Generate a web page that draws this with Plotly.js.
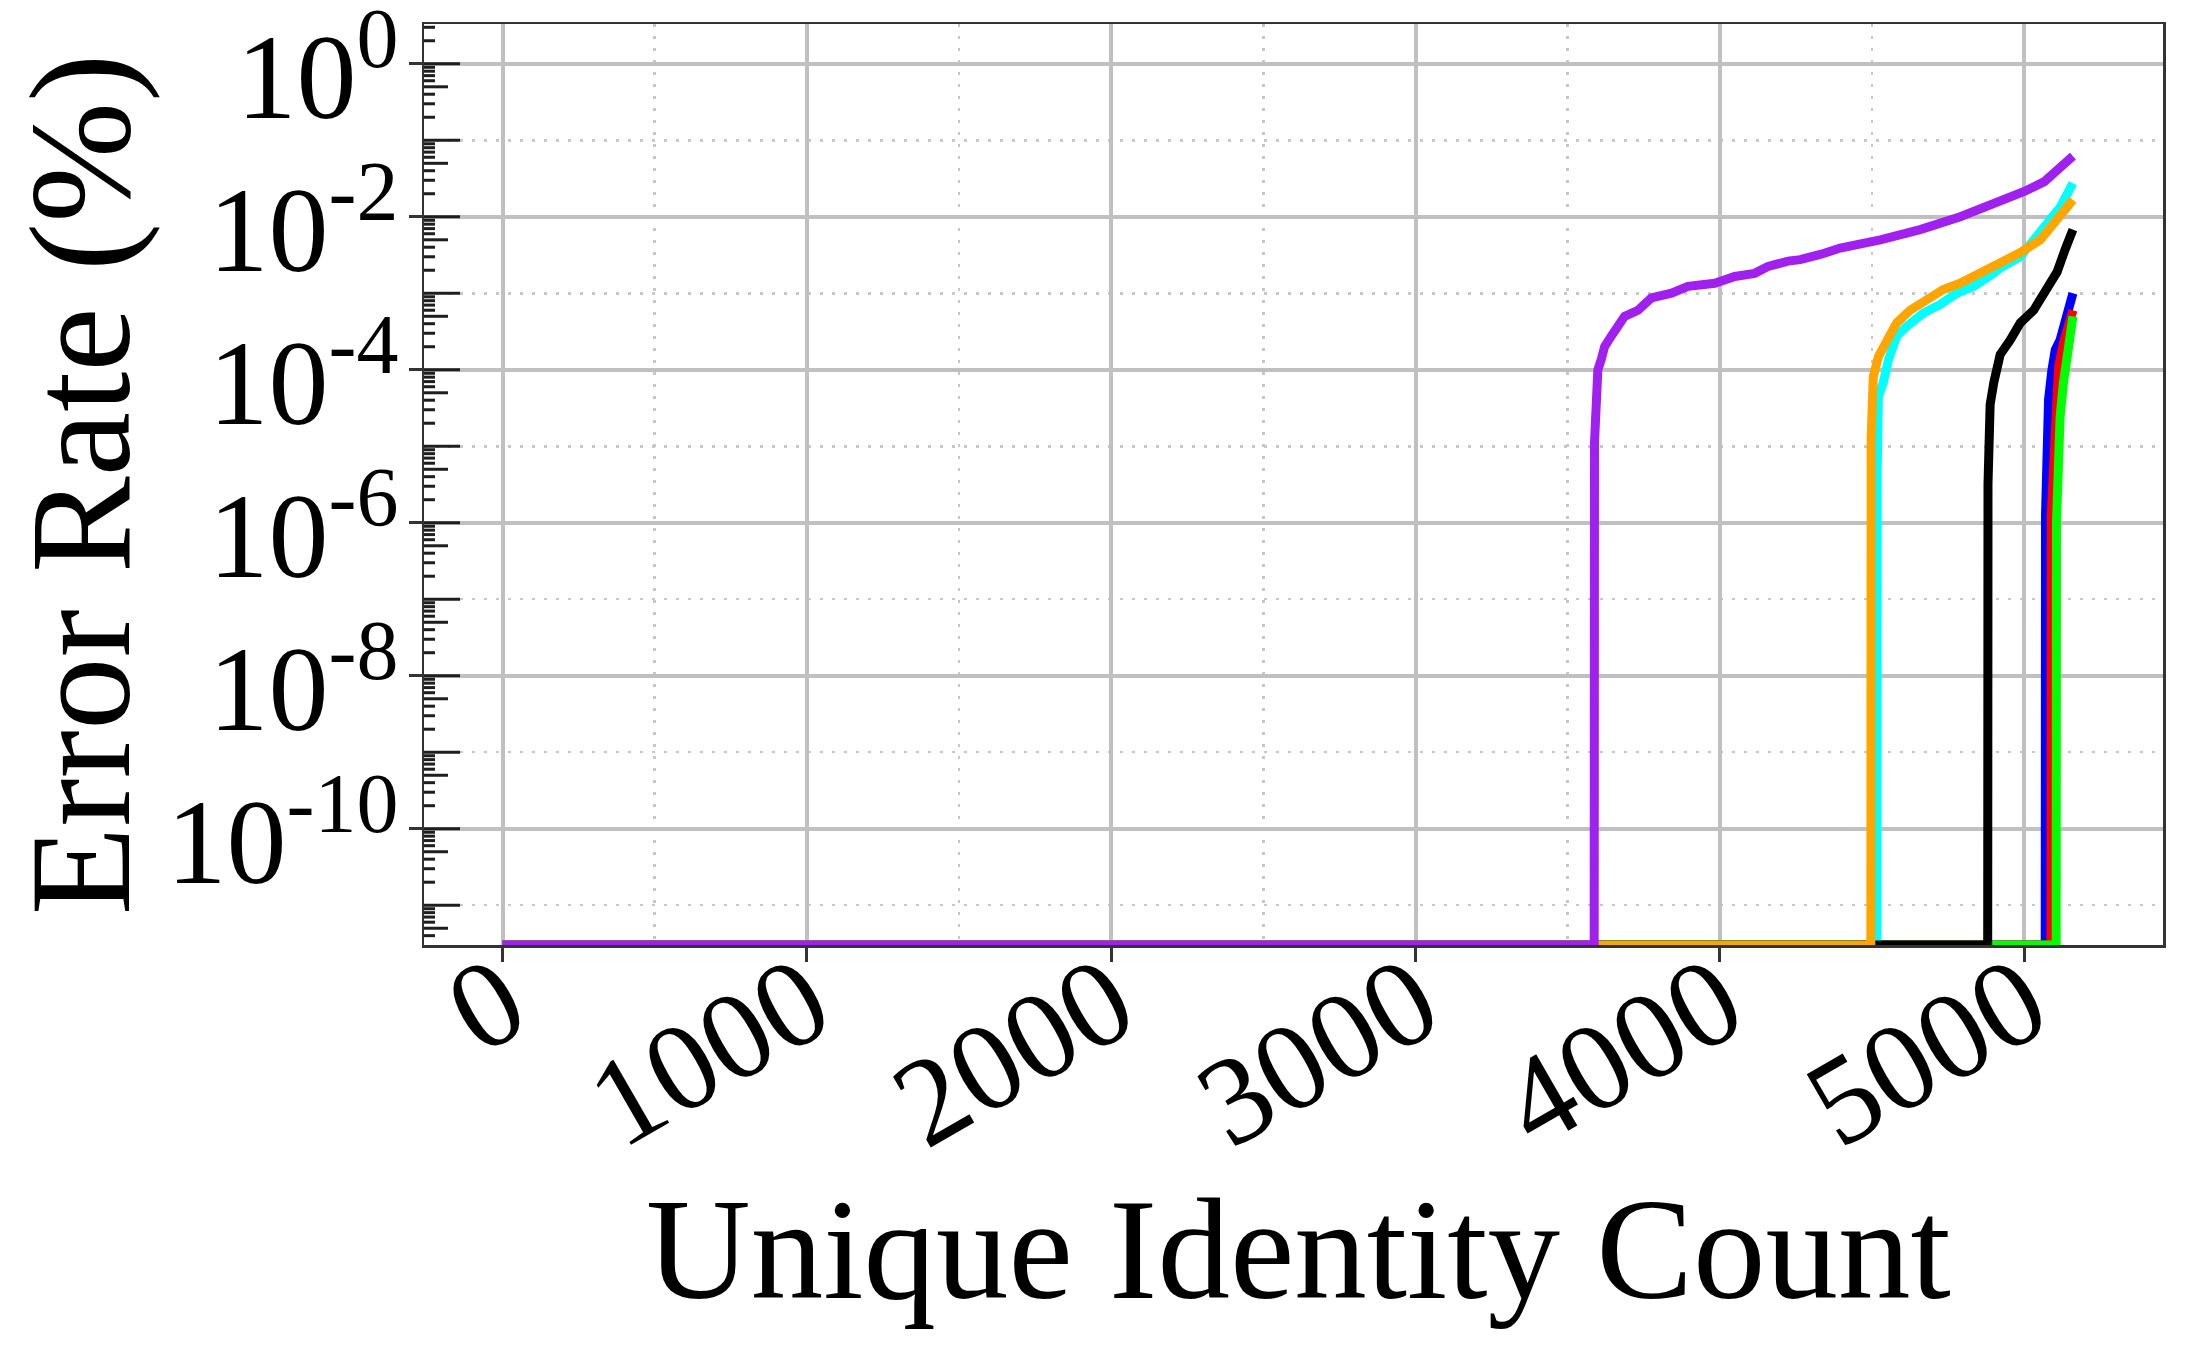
<!DOCTYPE html>
<html>
<head>
<meta charset="utf-8">
<script src="https://cdn.plot.ly/plotly-3.0.1.min.js"></script>
<style>html,body{margin:0;padding:0;background:#fff}#chart{width:2187px;height:1350px}</style>
</head>
<body>
<div id="chart"></div>
<script>
// ---- data (x = unique identity count, y = error rate %) ----
const purpleX = [0, 3587, 3588, 3589, 3590, 3592, 3599, 3610, 3621, 3643, 3665, 3687, 3731, 3775, 3841, 3895, 3983, 4049, 4114, 4158, 4224, 4264, 4333, 4395, 4527, 4658, 4790, 4921, 5000, 5066, 5119, 5160];
const purpleY = [0, 0, 1.1e-5, 1.5e-5, 2.8e-5, 7.9e-5, 1.0e-4, 1.35e-4, 2.0e-4, 2.75e-4, 3.7e-4, 5.0e-4, 6.0e-4, 8.7e-4, 1.0e-3, 1.23e-3, 1.35e-3, 1.66e-3, 1.82e-3, 2.24e-3, 2.63e-3, 2.75e-3, 3.24e-3, 3.9e-3, 5.0e-3, 6.8e-3, 1.0e-2, 1.58e-2, 2.14e-2, 2.88e-2, 4.57e-2, 6.2e-2];

const orangeX = [0, 4496, 4497, 4498, 4504, 4521, 4548, 4581, 4625, 4680, 4734, 4789, 4844, 4910, 4987, 5053, 5090, 5119, 5160];
const orangeY = [0, 0, 1.26e-5, 3.6e-5, 8.1e-5, 1.48e-4, 2.45e-4, 4.1e-4, 6.0e-4, 8.3e-4, 1.12e-3, 1.35e-3, 1.74e-3, 2.5e-3, 3.4e-3, 5.0e-3, 7.6e-3, 1.0e-2, 1.66e-2];

const cyanX = [0, 4516, 4517, 4518, 4521, 4537, 4554, 4581, 4614, 4669, 4723, 4778, 4833, 4899, 4921, 4987, 5053, 5119, 5160];
const cyanY = [0, 0, 5.0e-6, 8.9e-6, 4.5e-5, 6.8e-5, 1.35e-4, 2.75e-4, 3.7e-4, 5.5e-4, 7.1e-4, 1.0e-3, 1.23e-3, 1.82e-3, 2.14e-3, 3.0e-3, 6.5e-3, 1.35e-2, 2.75e-2];

const blackX = [0, 4880, 4881, 4882, 4888, 4900, 4910, 4921, 4954, 4987, 5031, 5075, 5108, 5134, 5150, 5160];
const blackY = [0, 0, 3.2e-6, 1.48e-5, 3.5e-5, 6.8e-5, 1.1e-4, 1.58e-4, 2.45e-4, 4.1e-4, 6.0e-4, 1.12e-3, 1.9e-3, 3.7e-3, 5.6e-3, 6.8e-3];

const blueX = [0, 5069, 5070, 5075, 5080, 5091, 5102, 5118, 5140, 5155, 5160];
const blueY = [0, 0, 1.26e-6, 9.1e-6, 4.1e-5, 1.0e-4, 1.82e-4, 2.45e-4, 5.0e-4, 8.9e-4, 1.0e-3];

const redX = [0, 5088, 5089, 5097, 5102, 5113, 5129, 5146, 5160];
const redY = [0, 0, 1.26e-6, 9.1e-6, 4.1e-5, 1.1e-4, 2.24e-4, 4.1e-4, 6.0e-4];

const greenX = [0, 5105, 5106, 5107, 5113, 5118, 5129, 5146, 5160];
const greenY = [0, 0, 1.0e-6, 2.0e-6, 7.4e-6, 2.45e-5, 6.8e-5, 1.82e-4, 5.0e-4];

// ---- tick labels and titles ----
const yTickVals = [1e-10, 1e-8, 1e-6, 1e-4, 1e-2, 1];
const yTickText = ['10<sup>-10</sup>', '10<sup>-8</sup>', '10<sup>-6</sup>', '10<sup>-4</sup>', '10<sup>-2</sup>', '10<sup>0</sup>'];
const xTickVals = [0, 1000, 2000, 3000, 4000, 5000];
const xTickText = ['0', '1000', '2000', '3000', '4000', '5000'];
const xTitle = 'Unique Identity Count';
const yTitle = 'Error Rate (%)';

// ---- axis configuration ----
const Y_RANGE = [-11.52, 0.52];
const X_RANGE = [-258, 5456];
const FLOOR = Math.pow(10, Y_RANGE[0]); // zero values sit on the bottom edge of the log axis

const FONT = 'Liberation Serif, Times New Roman, serif';
const GRID = '#c0c0c0';
const AX = '#333333';
const TICKC = '#1e1e1e';

// inside tick marks of the log y axis (decades long, x5 medium, others short)
const tickShapes = [];
function yTick(v, len) {
  const lv = Math.log10(v);
  if (lv < Y_RANGE[0] || lv > Y_RANGE[1]) return;
  tickShapes.push({
    type: 'line', layer: 'above',
    xref: 'x', xsizemode: 'pixel', xanchor: X_RANGE[0], x0: 0, x1: len,
    yref: 'y', y0: v, y1: v,
    line: {color: TICKC, width: 3}
  });
}
for (let k = -12; k <= 0; k++) {
  const d = Math.pow(10, k);
  yTick(d, 36);
  for (let m = 2; m <= 9; m++) yTick(m * d, m === 5 ? 24 : 11);
}

function mk(x, y, color) {
  return {
    type: 'scatter', mode: 'lines',
    x: x, y: y.map(v => (v > 0 ? v : FLOOR)),
    line: {color: color, width: 9},
    hoverinfo: 'skip', showlegend: false
  };
}

const traces = [
  mk(blueX, blueY, '#0000ff'),
  mk(redX, redY, '#ff0000'),
  mk(greenX, greenY, '#00ff00'),
  mk(cyanX, cyanY, '#00ffff'),
  mk(blackX, blackY, '#000000'),
  mk(orangeX, orangeY, '#ffa500'),
  mk(purpleX, purpleY, '#a020f0')
];

const layout = {
  width: 2187, height: 1350,
  paper_bgcolor: '#ffffff', plot_bgcolor: '#ffffff',
  margin: {l: 424, r: 24, t: 24, b: 405, pad: 0},
  font: {family: FONT, color: '#000'},
  shapes: tickShapes,
  annotations: [{
    text: xTitle, xref: 'paper', yref: 'paper', x: 0.503, y: -0.241,
    xanchor: 'center', yanchor: 'top', showarrow: false,
    font: {family: FONT, size: 145, color: '#000'}
  }],
  xaxis: {
    type: 'linear', range: X_RANGE,
    tickmode: 'array', tickvals: xTickVals, ticktext: xTickText,
    tickangle: -30,
    ticks: 'outside', ticklen: 14, tickwidth: 3, tickcolor: AX,
    ticklabelstandoff: -78,
    tickfont: {family: FONT, size: 125, color: '#000'},
    showgrid: true, gridcolor: GRID, gridwidth: 4,
    minor: {dtick: 500, tick0: 0, ticks: '', showgrid: true, gridcolor: '#c8c8c8', gridwidth: 2.5, griddash: '3px,9px'},
    zeroline: false,
    showline: true, linecolor: AX, linewidth: 2.5, mirror: true,
    fixedrange: true
  },
  yaxis: {
    type: 'log', range: Y_RANGE,
    tickmode: 'array', tickvals: yTickVals, ticktext: yTickText,
    ticks: 'outside', ticklen: 13, tickwidth: 3, tickcolor: AX,
    ticklabelstandoff: -14, ticklabelshift: 12, ticklabeloverflow: 'allow',
    tickfont: {family: FONT, size: 120, color: '#000'},
    showgrid: true, gridcolor: GRID, gridwidth: 4,
    minor: {dtick: 1, ticks: '', showgrid: true, gridcolor: '#c8c8c8', gridwidth: 2.5, griddash: '3px,9px'},
    zeroline: false,
    showline: true, linecolor: AX, linewidth: 2.5, mirror: true,
    title: {text: yTitle, font: {family: FONT, size: 145, color: '#000'}, standoff: 38},
    fixedrange: true
  }
};

Plotly.newPlot('chart', traces, layout, {displayModeBar: false, staticPlot: true});
</script>
</body>
</html>
